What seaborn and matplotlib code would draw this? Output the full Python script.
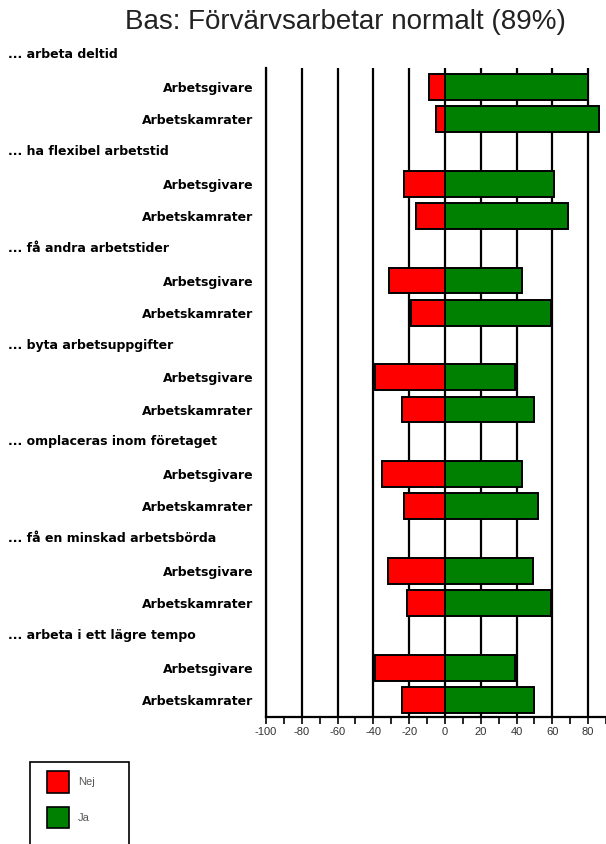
import matplotlib
matplotlib.use("Agg")
import matplotlib.pyplot as plt
from matplotlib.patches import Patch, Rectangle
from matplotlib.ticker import MultipleLocator
import pandas as pd
import seaborn as sns

# Survey statements and respondent groups
statements = [
    "... arbeta deltid",
    "... ha flexibel arbetstid",
    "... få andra arbetstider",
    "... byta arbetsuppgifter",
    "... omplaceras inom företaget",
    "... få en minskad arbetsbörda",
    "... arbeta i ett lägre tempo",
]
respondents = ["Arbetsgivare", "Arbetskamrater"]

# Share answering "Nej" / "Ja" (percent), per statement and respondent
nej = [9, 5, 23, 16, 31, 19, 39, 24, 35, 23, 32, 21, 39, 24]
ja = [80, 86, 61, 69, 43, 59, 39, 50, 43, 52, 49, 59, 39, 50]

answers = ["Nej", "Ja"]
colors = {"Nej": "#FF0000", "Ja": "#008000"}

# Long table: each statement gets a header row followed by one row per respondent
rows = []
for g, stmt in enumerate(statements):
    for k, resp in enumerate(respondents):
        i = g * len(respondents) + k
        pos = g * 3 + 1 + k
        rows.append(dict(statement=stmt, respondent=resp, answer="Nej", value=-nej[i], pos=pos))
        rows.append(dict(statement=stmt, respondent=resp, answer="Ja", value=ja[i], pos=pos))
df = pd.DataFrame(rows)

sns.set_theme(style="white")
plt.rcParams["font.family"] = ["Liberation Sans", "DejaVu Sans"]
plt.rcParams["axes.unicode_minus"] = False

W, H = 606, 844
fig = plt.figure(figsize=(W / 100, H / 100), dpi=100)
ax = fig.add_axes([266 / W, 127 / H, 340 / W, 649 / H])

sns.barplot(
    data=df, x="value", y="pos", hue="answer", hue_order=answers,
    palette=colors, orient="h", native_scale=True, dodge=False,
    width=0.8, edgecolor="black", linewidth=1.4, saturation=1,
    legend=False, ax=ax,
)

ax.set_xlim(-100, 90)
ax.set_ylim(20.53, 0.41)
ax.set_axisbelow(True)
ax.xaxis.set_major_locator(MultipleLocator(20))
ax.xaxis.set_minor_locator(MultipleLocator(10))
ax.grid(axis="x", which="major", color="black", linewidth=1.6)
ax.grid(axis="y", visible=False)

for side in ["top", "right"]:
    ax.spines[side].set_visible(False)
for side in ["left", "bottom"]:
    ax.spines[side].set_color("black")
    ax.spines[side].set_linewidth(1.6)

ax.tick_params(axis="x", which="both", direction="out", bottom=True, color="black",
               width=1.2, length=5, labelsize=8, labelcolor="#333333", pad=2)
ax.set_xlabel("")
ax.set_ylabel("")

# Respondent labels on the y axis, statement headers above each pair
label_font = dict(family="DejaVu Sans", weight="bold", size=9, color="black")
ytick_pos = [g * 3 + 1 + k for g in range(len(statements)) for k in range(len(respondents))]
ax.set_yticks(ytick_pos)
ax.set_yticklabels(respondents * len(statements), fontdict=label_font)
ax.tick_params(axis="y", length=0, pad=9)

trans = matplotlib.transforms.blended_transform_factory(fig.transFigure, ax.transData)
for g, stmt in enumerate(statements):
    ax.text(8 / W, g * 3, stmt, transform=trans, ha="left", va="center",
            fontdict=label_font, clip_on=False)

fig.text(345 / W, 1 - 22 / H, "Bas: Förvärvsarbetar normalt (89%)",
         ha="center", va="center", fontsize=20, color="#222222")

# Legend in an open box at the lower left
fig.add_artist(Rectangle((30 / W, -0.02), 99 / W, (H - 762) / H + 0.02,
                         transform=fig.transFigure, facecolor="none",
                         edgecolor="black", linewidth=1.2))
handles = [Patch(facecolor=colors[a], edgecolor="black", linewidth=1.2) for a in answers]
leg = fig.legend(handles, answers, loc="upper left", bbox_to_anchor=(47 / W, 1 - 771 / H),
                 frameon=False, fontsize=8, handlelength=2.0, handleheight=2.6,
                 labelspacing=1.3, borderpad=0, handletextpad=0.8, borderaxespad=0)
for t in leg.get_texts():
    t.set_color("#555555")

fig.savefig("out.png", dpi=100, facecolor="white")
